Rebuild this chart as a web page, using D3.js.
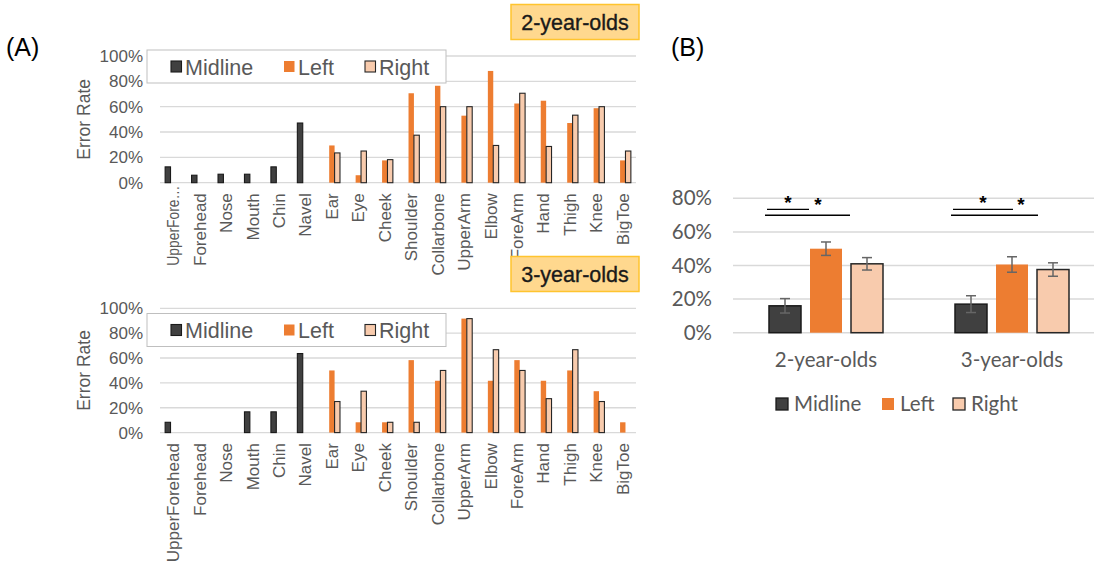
<!DOCTYPE html>
<html>
<head>
<meta charset="utf-8">
<script src="https://cdn.jsdelivr.net/npm/d3@7"></script>
<style>
  body { margin: 0; background: #fff; }
  svg { display: block; }
</style>
</head>
<body>
<svg id="chart" width="1094" height="566"></svg>
<script>
// ---- Data -------------------------------------------------------------
const bodyParts = ["UpperForehead","Forehead","Nose","Mouth","Chin","Navel","Ear","Eye","Cheek",
  "Shoulder","Collarbone","UpperArm","Elbow","ForeArm","Hand","Thigh","Knee","BigToe"];
const seriesNames = ["Midline","Left","Right"];
const yTicksA = [0, 0.2, 0.4, 0.6, 0.8, 1.0];
const yTicksB = [0, 0.2, 0.4, 0.6, 0.8];

// 2-year-olds, error rate (%) by body part; null = not applicable
const twoMidline = [12.5, 5.9, 6.7, 6.7, 12.5, 47.1, null, null, null, null, null, null, null, null, null, null, null, null];
const twoLeft    = [null, null, null, null, null, null, 29.4, 5.9, 17.6, 70.6, 76.5, 52.9, 88.2, 62.5, 64.7, 47.1, 58.8, 17.6];
const twoRight   = [null, null, null, null, null, null, 23.5, 25.0, 18.2, 37.5, 60.0, 60.0, 29.4, 70.6, 28.6, 53.3, 60.0, 25.0];

// 3-year-olds
const threeMidline = [8.3, null, null, 16.7, 16.7, 63.6, null, null, null, null, null, null, null, null, null, null, null, null];
const threeLeft    = [null, null, null, null, null, null, 50.0, 8.3, 8.3, 58.3, 41.7, 91.7, 41.7, 58.3, 41.7, 50.0, 33.3, 8.3];
const threeRight   = [null, null, null, null, null, null, 25.0, 33.3, 8.3, 8.3, 50.0, 91.7, 66.7, 50.0, 27.3, 66.7, 25.0, null];

// Panel B: mean error rate (%) and standard error per age group
const ageGroups = ["2-year-olds", "3-year-olds"];
const meanMidline = [16.0, 17.0];
const seMidline   = [4.3, 5.0];
const meanLeft    = [50.0, 40.6];
const seLeft      = [4.0, 4.6];
const meanRight   = [41.0, 37.6];
const seRight     = [3.7, 4.0];

// ---- Styles -----------------------------------------------------------
const colors = { Midline: "#404040", Left: "#ED7D31", Right: "#F8CBAD" };
const strokes = { Midline: "#1a1a1a", Left: "none", Right: "#262626" };
const gridColor = "#d9d9d9";
const textGray = "#595959";
const fontA = "'Liberation Sans', Arial, sans-serif";
const fontB = "Lato, 'Open Sans', sans-serif";

const svg = d3.select("#chart");
svg.append("rect").attr("width", 1094).attr("height", 566).attr("fill", "#fff");

// Panel labels
svg.append("text").text("(A)").attr("x", 6).attr("y", 56)
  .attr("font-family", fontA).attr("font-size", 25).attr("fill", "#000");
svg.append("text").text("(B)").attr("x", 671).attr("y", 56)
  .attr("font-family", fontA).attr("font-size", 25).attr("fill", "#000");

// ---- Panel A: per-body-part bars -------------------------------------
function drawBodyPartChart(cfg) {
  const g = svg.append("g");
  const x = d3.scaleBand().domain(bodyParts).range([160, 636]);
  const y = d3.scaleLinear().domain([0, 1]).range([cfg.y0, cfg.y1]);
  const barW = x.step() / 4.9;
  const cx = c => x(c) + x.bandwidth() / 2;

  // gridlines
  g.append("g").selectAll("line").data(yTicksA).join("line")
    .attr("x1", 160).attr("x2", 636)
    .attr("y1", d => y(d)).attr("y2", d => y(d))
    .attr("stroke", gridColor).attr("stroke-width", 1.3);

  // y axis labels
  const ya = g.append("g").attr("transform", "translate(160,0)")
    .call(d3.axisLeft(y).tickValues(yTicksA).tickFormat(d3.format(".0%")).tickSize(0).tickPadding(17));
  ya.select(".domain").remove();
  ya.selectAll("text").attr("font-family", fontA).attr("font-size", 17).attr("fill", textGray);

  // y axis title
  g.append("text").text("Error Rate")
    .attr("transform", `translate(90,${(cfg.y0 + cfg.y1) / 2}) rotate(-90)`)
    .attr("text-anchor", "middle")
    .attr("font-family", fontA).attr("font-size", 17.5).attr("fill", textGray);

  // bars
  const series = [cfg.midline, cfg.left, cfg.right];
  series.forEach((vals, si) => {
    const name = seriesNames[si];
    const data = bodyParts.map((c, i) => ({ c, v: vals[i] })).filter(d => d.v != null);
    g.append("g").selectAll("rect").data(data).join("rect")
      .attr("x", d => cx(d.c) + (si - 1.5) * barW)
      .attr("width", barW)
      .attr("y", d => y(d.v / 100))
      .attr("height", d => y(0) - y(d.v / 100))
      .attr("fill", colors[name])
      .attr("stroke", strokes[name])
      .attr("stroke-width", name === "Left" ? 0 : 1.1);
  });

  // category labels
  const xa = g.append("g").attr("transform", `translate(0,${cfg.y0})`)
    .call(d3.axisBottom(x).tickSize(0).tickFormat((d, i) => cfg.labels[i]));
  xa.select(".domain").remove();
  xa.selectAll("text")
    .attr("transform", "rotate(-90)")
    .attr("text-anchor", "end")
    .attr("x", -10.5).attr("y", 0).attr("dy", "0.35em")
    .attr("font-family", fontA).attr("font-size", 17).attr("fill", textGray)
    .each(function (d, i) {
      if (cfg.labels[i] !== bodyParts[i]) {
        d3.select(this).attr("x", -3).attr("textLength", 80).attr("lengthAdjust", "spacingAndGlyphs");
      }
    });

  // legend
  const lg = g.append("g").attr("transform", `translate(147,${cfg.legendY})`);
  lg.append("rect").attr("width", 299).attr("height", 33)
    .attr("fill", "#fff").attr("stroke", "#bfbfbf").attr("stroke-width", 1);
  const items = [{ n: "Midline", x: 24 }, { n: "Left", x: 137 }, { n: "Right", x: 218 }];
  items.forEach(it => {
    lg.append("rect").attr("x", it.x).attr("y", 11).attr("width", 10.5).attr("height", 11)
      .attr("fill", colors[it.n]).attr("stroke", strokes[it.n])
      .attr("stroke-width", it.n === "Left" ? 0 : 1.1);
    lg.append("text").text(it.n).attr("x", it.x + 14).attr("y", 17).attr("dy", "0.36em")
      .attr("font-family", fontA).attr("font-size", 21.5).attr("fill", textGray);
  });

  // age group tag
  const tg = g.append("g").attr("transform", `translate(511,${cfg.tagY})`);
  tg.append("rect").attr("width", 128).attr("height", 35)
    .attr("fill", "#FFD88E").attr("stroke", "#FFC42E").attr("stroke-width", 1.5);
  tg.append("text").text(cfg.tag).attr("x", 64).attr("y", 18).attr("dy", "0.36em")
    .attr("text-anchor", "middle")
    .attr("font-family", fontA).attr("font-size", 21.5).attr("fill", "#1a1a1a")
    .attr("stroke", "#1a1a1a").attr("stroke-width", 0.35);
}

const labelsTwo = bodyParts.map((d, i) => i === 0 ? "UpperFore\u2026" : d);

drawBodyPartChart({
  y0: 182.7, y1: 56, midline: twoMidline, left: twoLeft, right: twoRight,
  labels: labelsTwo, legendY: 50, tagY: 4.5, tag: "2-year-olds"
});
drawBodyPartChart({
  y0: 432.6, y1: 308.3, midline: threeMidline, left: threeLeft, right: threeRight,
  labels: bodyParts, legendY: 313.5, tagY: 256.5, tag: "3-year-olds"
});

// ---- Panel B: mean error rate by age group ---------------------------
(function drawSummary() {
  const g = svg.append("g");
  const x = d3.scaleBand().domain(ageGroups).range([733, 1105]);
  const y = d3.scaleLinear().domain([0, 0.8]).range([332.7, 198.3]);
  const barW = 32, barStep = 41;
  const cx = c => x(c) + x.bandwidth() / 2;

  g.append("g").selectAll("line").data(yTicksB).join("line")
    .attr("x1", 733).attr("x2", 1094)
    .attr("y1", d => y(d)).attr("y2", d => y(d))
    .attr("stroke", gridColor).attr("stroke-width", 1.5);

  const ya = g.append("g").attr("transform", "translate(733,0)")
    .call(d3.axisLeft(y).tickValues(yTicksB).tickFormat(d3.format(".0%")).tickSize(0).tickPadding(21));
  ya.select(".domain").remove();
  ya.selectAll("text").attr("font-family", fontB).attr("font-size", 20.5).attr("fill", textGray);

  const means = [meanMidline, meanLeft, meanRight];
  const ses = [seMidline, seLeft, seRight];
  means.forEach((vals, si) => {
    const name = seriesNames[si];
    const data = ageGroups.map((a, i) => ({ a, v: vals[i], e: ses[si][i] }));
    const bx = d => cx(d.a) + (si - 1) * barStep;
    g.append("g").selectAll("rect").data(data).join("rect")
      .attr("x", d => bx(d) - barW / 2).attr("width", barW)
      .attr("y", d => y(d.v / 100)).attr("height", d => y(0) - y(d.v / 100))
      .attr("fill", colors[name]).attr("stroke", strokes[name])
      .attr("stroke-width", name === "Left" ? 0 : 1.5);
    // error bars
    const eg = g.append("g").attr("stroke", "#666").attr("stroke-width", 1.5);
    data.forEach(d => {
      const top = y((d.v + d.e) / 100), bot = y((d.v - d.e) / 100), xc = bx(d);
      eg.append("line").attr("x1", xc).attr("x2", xc).attr("y1", top).attr("y2", bot);
      eg.append("line").attr("x1", xc - 5).attr("x2", xc + 5).attr("y1", top).attr("y2", top);
      eg.append("line").attr("x1", xc - 5).attr("x2", xc + 5).attr("y1", bot).attr("y2", bot);
    });
  });

  // significance brackets: Midline vs Left (short), Midline vs Right (long)
  const sig = g.append("g");
  ageGroups.forEach((a, i) => {
    const xStart = cx(a) - barStep - barW / 2 - 4;
    const xShortEnd = cx(a) - barW / 2 + (i === 0 ? -1 : 17);
    const xLongEnd = cx(a) + barStep - barW / 2 + (i === 0 ? -1 : 1);
    sig.append("line").attr("x1", xStart + 2).attr("x2", xShortEnd)
      .attr("y1", y(0.734)).attr("y2", y(0.734)).attr("stroke", "#000").attr("stroke-width", 1.4);
    sig.append("line").attr("x1", xStart).attr("x2", xLongEnd)
      .attr("y1", y(0.699)).attr("y2", y(0.699)).attr("stroke", "#000").attr("stroke-width", 1.4);
    sig.append("text").text("*").attr("x", (xStart + 2 + xShortEnd) / 2).attr("y", y(0.735))
      .attr("text-anchor", "middle").attr("font-family", fontA).attr("font-weight", "bold")
      .attr("font-size", 19).attr("fill", "#000");
    sig.append("text").text("*").attr("x", cx(a) + (i === 0 ? -8 : 9)).attr("y", y(0.725))
      .attr("text-anchor", "middle").attr("font-family", fontA).attr("font-weight", "bold")
      .attr("font-size", 19).attr("fill", "#000");
  });

  // category labels
  const xa = g.append("g").attr("transform", "translate(0,332.7)")
    .call(d3.axisBottom(x).tickSize(0).tickPadding(20));
  xa.select(".domain").remove();
  xa.selectAll("text").attr("font-family", fontB).attr("font-size", 20.5).attr("fill", textGray);

  // legend
  const lg = g.append("g").attr("transform", "translate(776,404)");
  const items = [{ n: "Midline", x: 0 }, { n: "Left", x: 106 }, { n: "Right", x: 177 }];
  items.forEach(it => {
    lg.append("rect").attr("x", it.x).attr("y", -6).attr("width", 12).attr("height", 12)
      .attr("fill", colors[it.n]).attr("stroke", strokes[it.n])
      .attr("stroke-width", it.n === "Left" ? 0 : 1.3);
    lg.append("text").text(it.n).attr("x", it.x + 18).attr("y", 0).attr("dy", "0.36em")
      .attr("font-family", fontB).attr("font-size", 20.5).attr("fill", textGray);
  });
})();
</script>
</body>
</html>
